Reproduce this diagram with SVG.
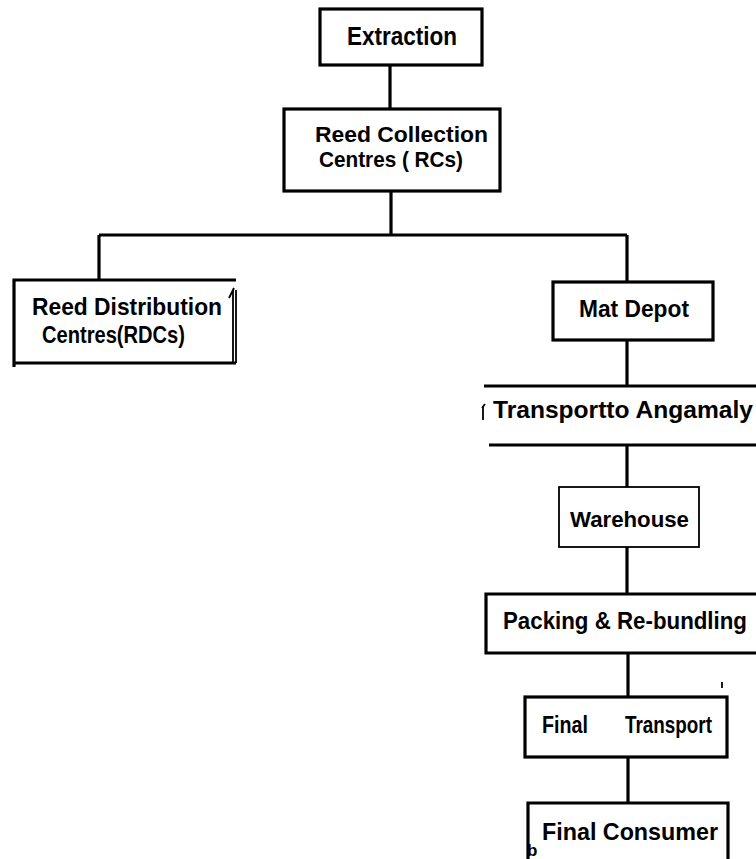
<svg xmlns="http://www.w3.org/2000/svg" width="756" height="859" viewBox="0 0 756 859">
<style>
.box{fill:none;stroke:#000;stroke-width:3.2}
.thin{fill:none;stroke:#000;stroke-width:1.8}
.ln{fill:none;stroke:#000;stroke-width:3.2}
.t{font-family:"Liberation Sans",Arial,sans-serif;font-weight:bold;fill:#000}
.c{font-size:25px}
.h{font-size:24px}
.r{font-size:22px}
</style>
<rect width="756" height="859" fill="#fff"/>
<g id="connectors">
<path class="ln" d="M390 65V109"/>
<path class="ln" d="M391 191V235"/>
<path class="ln" d="M99 235H627"/>
<path class="ln" d="M99 235V280"/>
<path class="ln" d="M627 235V282"/>
<path class="ln" d="M627 340V386"/>
<path class="ln" d="M627 445V487"/>
<path class="ln" d="M627 547V594"/>
<path class="ln" d="M628 653V697"/>
<path class="ln" d="M628 757V803"/>
</g>
<g id="extraction">
<rect class="box" x="320" y="9" width="162" height="56"/>
<text class="t c" x="347" y="45" textLength="110" lengthAdjust="spacingAndGlyphs">Extraction</text>
</g>
<g id="rc">
<rect class="box" x="284" y="109" width="216" height="82"/>
<text class="t r" x="315" y="142" textLength="173" lengthAdjust="spacingAndGlyphs">Reed  Collection</text>
<text class="t r" x="319" y="167" textLength="144" lengthAdjust="spacingAndGlyphs">Centres ( RCs)</text>
</g>
<g id="rdc">
<path class="box" d="M14 367V280H236"/>
<path class="box" d="M14 363H236"/>
<path class="thin" d="M233 290V363M236 290V363"/>
<path class="thin" d="M229 298L234 288"/>
<text class="t h" x="32" y="315" textLength="190" lengthAdjust="spacingAndGlyphs">Reed  Distribution</text>
<text class="t h" x="42" y="343" textLength="143" lengthAdjust="spacingAndGlyphs">Centres(RDCs)</text>
</g>
<g id="matdepot">
<rect class="box" x="553" y="282" width="160" height="58"/>
<text class="t h" x="579" y="317" textLength="110" lengthAdjust="spacingAndGlyphs">Mat  Depot</text>
</g>
<g id="transport">
<path class="ln" d="M484 386H756M489 445H756"/>
<path class="thin" d="M483 406V420M485 404L482 408"/>
<text class="t" font-size="24" x="493" y="418" textLength="260" lengthAdjust="spacingAndGlyphs">Transportto Angamaly</text>
</g>
<g id="warehouse">
<rect class="thin" x="559" y="487" width="140" height="60"/>
<text class="t" font-size="22" x="570" y="527" textLength="119" lengthAdjust="spacingAndGlyphs">Warehouse</text>
</g>
<g id="packing">
<path class="ln" d="M756 594H486V653H756"/>
<text class="t h" x="503" y="629" textLength="244" lengthAdjust="spacingAndGlyphs">Packing  &amp;  Re-bundling</text>
</g>
<g id="finaltransport">
<rect class="box" x="525" y="697" width="202" height="60"/>
<path class="thin" d="M722 682V688" stroke-width="2.5"/>
<text class="t h" x="542" y="733" textLength="46" lengthAdjust="spacingAndGlyphs">Final</text>
<text class="t h" x="625" y="733" textLength="87" lengthAdjust="spacingAndGlyphs">Transport</text>
</g>
<g id="finalconsumer">
<path class="box" d="M528 859V803H728V859"/>
<text class="t h" x="542" y="840" textLength="176" lengthAdjust="spacingAndGlyphs">Final  Consumer</text>
<text class="t" font-size="17" x="527" y="856">b</text>
</g>
</svg>
